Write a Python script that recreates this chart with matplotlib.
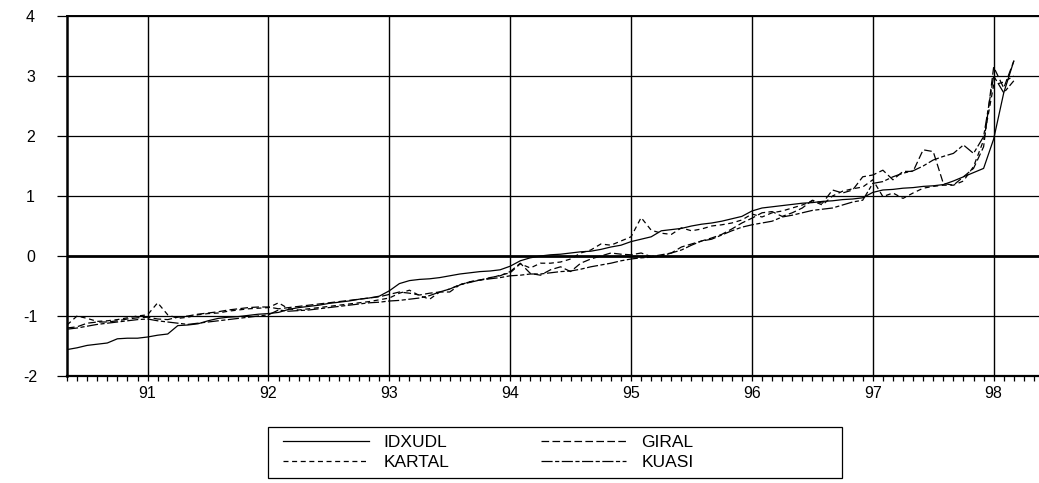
import matplotlib
matplotlib.use("Agg")
import matplotlib.pyplot as plt
from matplotlib.patches import Rectangle
import numpy as np

plt.rcParams['font.family'] = ['Liberation Sans', 'DejaVu Sans']
plt.rcParams['lines.scale_dashes'] = False

start_year, start_month = 1990, 5
year_labels = ['91', '92', '93', '94', '95', '96', '97', '98']
series_names = ['IDXUDL', 'GIRAL', 'KARTAL', 'KUASI']

idxudl = [-1.56, -1.53, -1.49, -1.47, -1.45, -1.38, -1.37, -1.37, -1.35, -1.32,
          -1.30, -1.16, -1.15, -1.13, -1.08, -1.04, -1.02, -1.01, -0.99, -0.97,
          -0.96, -0.94, -0.89, -0.86, -0.84, -0.82, -0.79, -0.77, -0.75, -0.72,
          -0.70, -0.67, -0.58, -0.46, -0.41, -0.39, -0.38, -0.36, -0.33, -0.30,
          -0.28, -0.26, -0.25, -0.23, -0.17, -0.08, -0.03, 0.00, 0.02, 0.03,
          0.05, 0.07, 0.08, 0.11, 0.15, 0.18, 0.24, 0.28, 0.32, 0.42,
          0.44, 0.46, 0.50, 0.53, 0.55, 0.58, 0.62, 0.66, 0.75, 0.80,
          0.82, 0.84, 0.86, 0.88, 0.89, 0.91, 0.92, 0.94, 0.95, 0.97,
          1.06, 1.10, 1.11, 1.13, 1.14, 1.16, 1.17, 1.19, 1.25, 1.32,
          1.39, 1.46, 1.95, 2.72, 3.25]

giral = [-1.20, -1.18, -1.12, -1.10, -1.10, -1.08, -1.05, -1.03, -1.02, -1.05,
         -1.06, -1.02, -1.00, -0.97, -0.95, -0.93, -0.90, -0.88, -0.86, -0.85,
         -0.85, -0.88, -0.86, -0.84, -0.82, -0.80, -0.78, -0.76, -0.74, -0.72,
         -0.70, -0.68, -0.64, -0.60, -0.62, -0.65, -0.62, -0.60, -0.60, -0.48,
         -0.43, -0.40, -0.36, -0.33, -0.26, -0.12, -0.29, -0.32, -0.23, -0.18,
         -0.26, -0.12, -0.05, 0.00, 0.05, 0.03, 0.02, 0.05, -0.01, 0.02,
         0.05, 0.15, 0.20, 0.25, 0.30, 0.36, 0.45, 0.55, 0.63, 0.72,
         0.74, 0.66, 0.72, 0.80, 0.93, 0.88, 1.10, 1.05, 1.10, 1.32,
         1.35, 1.43, 1.27, 1.41, 1.41, 1.77, 1.74, 1.21, 1.18, 1.32,
         1.46, 1.82, 3.15, 2.80, 3.25]

kartal = [-1.15, -1.00, -1.04, -1.09, -1.08, -1.06, -1.03, -1.00, -0.98, -0.78,
          -0.98, -1.04, -1.02, -0.98, -0.96, -0.95, -0.92, -0.90, -0.88, -0.87,
          -0.86, -0.78, -0.88, -0.90, -0.88, -0.86, -0.84, -0.82, -0.80, -0.78,
          -0.76, -0.73, -0.70, -0.62, -0.57, -0.66, -0.72, -0.60, -0.55, -0.48,
          -0.43, -0.40, -0.37, -0.32, -0.28, -0.13, -0.20, -0.12, -0.12, -0.10,
          -0.05, 0.05, 0.10, 0.20, 0.18, 0.25, 0.32, 0.64, 0.43, 0.38,
          0.36, 0.47, 0.42, 0.45, 0.50, 0.52, 0.55, 0.60, 0.70, 0.65,
          0.72, 0.75, 0.80, 0.85, 0.92, 0.85, 1.00, 1.08, 1.12, 1.15,
          1.27, 0.99, 1.05, 0.96, 1.05, 1.13, 1.16, 1.18, 1.18, 1.25,
          1.49, 1.93, 2.85, 2.90, 3.00]

kuasi = [-1.22, -1.20, -1.17, -1.14, -1.12, -1.10, -1.08, -1.06, -1.05, -1.08,
         -1.10, -1.12, -1.14, -1.12, -1.10, -1.08, -1.06, -1.04, -1.02, -1.00,
         -0.98, -0.90, -0.92, -0.91, -0.90, -0.88, -0.86, -0.84, -0.82, -0.80,
         -0.78, -0.77, -0.75, -0.74, -0.72, -0.70, -0.66, -0.60, -0.55, -0.48,
         -0.44, -0.40, -0.38, -0.36, -0.33, -0.32, -0.30, -0.30, -0.28, -0.26,
         -0.25, -0.22, -0.18, -0.15, -0.12, -0.08, -0.05, -0.03, -0.02, 0.00,
         0.05, 0.10, 0.18, 0.25, 0.28, 0.35, 0.42, 0.48, 0.52, 0.55,
         0.58, 0.65, 0.68, 0.72, 0.76, 0.78, 0.80, 0.85, 0.90, 0.93,
         1.21, 1.24, 1.32, 1.38, 1.42, 1.50, 1.60, 1.66, 1.71, 1.85,
         1.71, 1.99, 3.00, 2.72, 2.92]

n = len(idxudl)
x = np.arange(n)

fig = plt.figure(figsize=(10.39, 4.83), dpi=100)
W, H = 1039, 483
ax = fig.add_axes([67 / W, 1 - 376 / H, (1039 - 67) / W, 360 / H])

lw = 0.9
styles = {
    'IDXUDL': dict(linestyle='-'),
    'GIRAL': dict(dashes=(5.5, 2.4)),
    'KARTAL': dict(dashes=(3.6, 2.6)),
    'KUASI': dict(dashes=(8.0, 1.8, 3.0, 1.8)),
}
data = {'IDXUDL': idxudl, 'GIRAL': giral, 'KARTAL': kartal, 'KUASI': kuasi}
handles = {}
for name in series_names:
    h, = ax.plot(x, data[name], color='black', lw=lw, label=name, **styles[name], zorder=3)
    handles[name] = h

ax.set_ylim(-2, 4)
ax.set_xlim(0, 96.5)

# grid
for yv in range(-2, 5):
    ax.axhline(yv, color='black', lw=2.0 if yv == 0 else 0.9, zorder=1)
year_pos = [12 * (int('19' + y) - start_year) - (start_month - 1) for y in year_labels]
for xp in year_pos:
    ax.axvline(xp, color='black', lw=1.0, zorder=1)

ax.set_yticks(range(-2, 5))
ax.set_yticklabels([str(v) for v in range(-2, 5)])
ax.set_xticks(year_pos)
ax.set_xticklabels(year_labels)
ax.set_xticks(np.arange(0, 97), minor=True)

ax.tick_params(axis='y', which='major', length=7.2, width=0.9, direction='out', pad=19,
               labelsize=11.5)
ax.tick_params(axis='x', which='major', length=3.5, width=0.9, direction='out', pad=4,
               labelsize=11.5)
ax.tick_params(axis='x', which='minor', length=3.5, width=0.9, direction='out')
for lab in ax.get_yticklabels():
    lab.set_horizontalalignment('center')

ax.spines['right'].set_visible(False)
ax.spines['left'].set_linewidth(1.8)
ax.spines['bottom'].set_linewidth(1.6)
ax.spines['top'].set_linewidth(1.4)

# legend
fig.patches.append(Rectangle((268 / W, 1 - 478 / H), (842 - 268) / W, 51 / H,
                             transform=fig.transFigure, fill=False,
                             edgecolor='black', lw=0.9))
order = ['IDXUDL', 'KARTAL', 'GIRAL', 'KUASI']
leg = fig.legend([handles[k] for k in order], order, ncol=2,
                 loc='upper left', bbox_to_anchor=(280 / W, 1 - 431 / H),
                 frameon=False, handlelength=4.9, handletextpad=0.86,
                 borderaxespad=0, borderpad=0.2, labelspacing=0.3,
                 fontsize=12.5, columnspacing=5.3)

fig.savefig('out.png', dpi=100)
